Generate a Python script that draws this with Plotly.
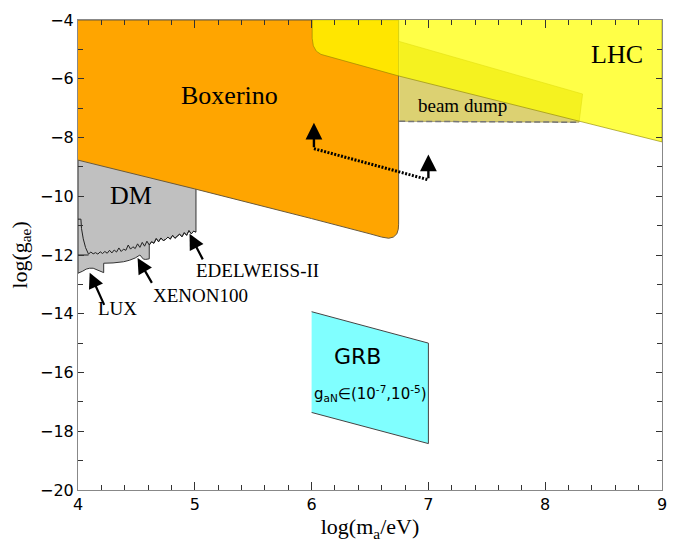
import plotly.graph_objects as go

# ---------------- data (log10 units) ----------------
boxerino_x = [4.0, 6.745, 6.745, 6.742, 6.73, 6.70, 6.66, 6.60, 6.50, 6.30, 6.00, 5.00, 4.0]
boxerino_y = [-4.0, -4.0, -10.95, -11.12, -11.28, -11.39, -11.43, -11.39, -11.28, -11.07, -10.76, -9.75, -8.77]

lhc_x = [6.005, 6.005, 6.015, 6.04, 6.08, 6.15, 6.75, 9.0, 9.0]
lhc_y = [-4.0, -4.62, -4.88, -5.06, -5.17, -5.25, -5.91, -8.15, -4.0]

beamdump_x = [6.75, 8.32, 8.29, 6.75]
beamdump_y = [-4.73, -6.52, -7.48, -7.45]

grb_x = [6.0, 7.0, 7.0, 6.0]
grb_y = [-13.93, -15.0, -18.42, -17.36]

# EDELWEISS-II limit curve (left to right)
edel_x = [4.0, 4.025, 4.03, 4.045, 4.065, 4.09, 4.11, 4.13, 4.15, 4.17, 4.19, 4.21, 4.23, 4.25,
          4.27, 4.29, 4.31, 4.33, 4.35, 4.37, 4.39, 4.41, 4.43, 4.45, 4.47, 4.49, 4.51, 4.53,
          4.55, 4.57, 4.59, 4.61, 4.63, 4.65, 4.67, 4.69, 4.71, 4.73, 4.75, 4.77, 4.79, 4.81,
          4.83, 4.85, 4.87, 4.89, 4.91, 4.93, 4.95, 4.97, 4.99, 5.01]
edel_y = [-10.78, -10.78, -11.10, -11.45, -11.75, -11.97, -11.90, -11.96, -11.92, -11.97, -11.89,
          -11.95, -11.88, -11.94, -11.84, -11.93, -11.83, -11.90, -11.76, -11.88, -11.80, -11.84,
          -11.66, -11.80, -11.72, -11.78, -11.62, -11.74, -11.57, -11.70, -11.53, -11.66, -11.55,
          -11.60, -11.44, -11.55, -11.42, -11.51, -11.47, -11.39, -11.46, -11.33, -11.43, -11.36,
          -11.29, -11.38, -11.24, -11.33, -11.17, -11.28, -11.19, -11.22]

# XENON100 limit (right to left)
xenon_x = [4.61, 4.58, 4.56, 4.53, 4.49, 4.44, 4.39, 4.30, 4.22]
xenon_y = [-12.13, -12.15, -12.14, -12.00, -12.10, -12.18, -12.23, -12.27, -12.28]

# LUX limit (right to left)
lux_x = [4.22, 4.20, 4.17, 4.13, 4.10, 4.07, 4.04, 4.0]
lux_y = [-12.60, -12.57, -12.50, -12.45, -12.45, -12.48, -12.55, -12.62]

# dotted projection line
proj_x = [6.02, 7.0]
proj_y = [-8.38, -9.44]

fig = go.Figure()

# DM (grey) region
mask = [i for i, x in enumerate(edel_x) if x >= 4.61]
dm_x = [4.0, 5.01] + [edel_x[i] for i in reversed(mask)] + xenon_x + lux_x + [4.0]
dm_y = [-8.5, -8.5] + [edel_y[i] for i in reversed(mask)] + xenon_y + lux_y + [-8.5]
fig.add_trace(go.Scatter(x=dm_x, y=dm_y, fill="toself", fillcolor="#C0C0C0", mode="lines",
                         line=dict(color="#333333", width=1), hoverinfo="skip", showlegend=False))
fig.add_trace(go.Scatter(x=edel_x, y=edel_y, mode="lines", line=dict(color="#222222", width=1),
                         showlegend=False, hoverinfo="skip"))
fig.add_trace(go.Scatter(x=[4.0, 4.09], y=[-12.0, -12.0], mode="lines",
                         line=dict(color="#222222", width=1), showlegend=False, hoverinfo="skip"))

# Boxerino (orange)
fig.add_trace(go.Scatter(x=boxerino_x, y=boxerino_y, fill="toself", fillcolor="#FFA500", mode="lines",
                         line=dict(color="#6b5a3a", width=1), hoverinfo="skip", showlegend=False))

# beam dump
fig.add_trace(go.Scatter(x=beamdump_x, y=beamdump_y, fill="toself", fillcolor="#DCD172", mode="lines",
                         line=dict(color="rgba(150,140,60,0.6)", width=1), hoverinfo="skip", showlegend=False))
fig.add_trace(go.Scatter(x=[beamdump_x[3], beamdump_x[2]], y=[beamdump_y[3], beamdump_y[2]], mode="lines",
                         line=dict(color="#777777", width=1.5, dash="6px,3px"),
                         hoverinfo="skip", showlegend=False))

# LHC (semi-transparent yellow)
fig.add_trace(go.Scatter(x=lhc_x, y=lhc_y, fill="toself", fillcolor="rgba(255,255,0,0.72)", mode="lines",
                         line=dict(color="rgba(140,130,0,0.6)", width=1), hoverinfo="skip", showlegend=False))

# GRB
fig.add_trace(go.Scatter(x=grb_x, y=grb_y, fill="toself", fillcolor="#80FFFF", mode="lines",
                         line=dict(color="#444444", width=1), hoverinfo="skip", showlegend=False))

# dotted projection
fig.add_trace(go.Scatter(x=proj_x, y=proj_y, mode="lines",
                         line=dict(color="black", width=3, dash="2px,1.5px"),
                         hoverinfo="skip", showlegend=False))

serif = "Liberation Serif, Times New Roman, serif"
sans = "DejaVu Sans, sans-serif"

ann = []
def arrow(x, y, ax, ay, w=2.2, size=1.4):
    ann.append(dict(x=x, y=y, ax=ax, ay=ay, xref="x", yref="y", axref="x", ayref="y", text="",
                    showarrow=True, arrowhead=2, arrowsize=size, arrowwidth=w, arrowcolor="black"))

arrow(6.02, -7.5, proj_x[0], proj_y[0], w=2.4)
arrow(7.0, -8.58, proj_x[1], proj_y[1], w=2.4)
arrow(4.955, -11.28, 5.075, -12.2)
arrow(4.51, -12.1, 4.64, -13.0)
arrow(4.10, -12.6, 4.23, -13.75)

def label(x, y, t, size, fam=serif):
    ann.append(dict(x=x, y=y, xref="x", yref="y", text=t, showarrow=False,
                    font=dict(family=fam, size=size, color="black")))

label(5.30, -6.58, "Boxerino", 26)
label(4.456, -9.98, "DM", 26)
label(8.615, -5.18, "LHC", 26)
label(7.29, -6.92, "beam dump", 19)
label(5.54, -12.52, "EDELWEISS-II", 19)
label(5.05, -13.39, "XENON100", 19)
label(4.335, -13.83, "LUX", 19)
label(6.394, -15.45, "GRB", 22, sans)
label(6.505, -16.72, "g<sub>aN</sub>∈(10<sup>-7</sup>,10<sup>-5</sup>)", 15, sans)

fig.update_layout(
    width=678, height=549,
    margin=dict(l=78, r=11, t=15, b=59),
    plot_bgcolor="white", paper_bgcolor="white",
    annotations=ann, showlegend=False,
)
fig.update_xaxes(range=[4, 9], dtick=1, tick0=4, showgrid=False, zeroline=False,
                 showline=True, linecolor="#888888", linewidth=1, mirror="allticks",
                 ticks="inside", ticklen=8, tickcolor="#333333",
                 minor=dict(dtick=0.2, ticks="inside", ticklen=5, tickcolor="#333333"),
                 tickfont=dict(family=sans, size=16, color="black"),
                 title=dict(text="log(m<sub>a</sub>/eV)", font=dict(family=serif, size=22, color="black"),
                            standoff=5))
fig.update_yaxes(range=[-20, -4], dtick=2, tick0=-20, showgrid=False, zeroline=False,
                 showline=True, linecolor="#888888", linewidth=1, mirror="allticks",
                 ticks="inside", ticklen=6, tickcolor="#333333",
                 minor=dict(dtick=1, ticks="inside", ticklen=5, tickcolor="#333333"),
                 tickfont=dict(family=sans, size=16, color="black"),
                 title=dict(text="log(g<sub>ae</sub>)", font=dict(family=serif, size=22, color="black"),
                            standoff=6))

fig.write_html("out.html")
